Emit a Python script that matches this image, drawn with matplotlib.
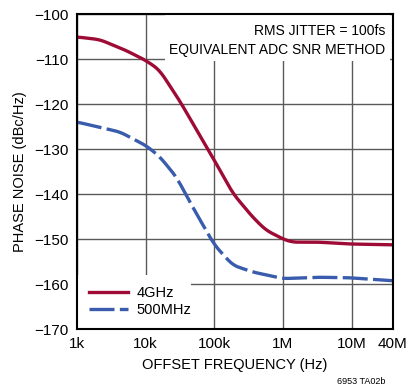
import numpy as np
import matplotlib
matplotlib.use("Agg")
import matplotlib.pyplot as plt
from matplotlib.patches import Rectangle

plt.rcParams['font.family'] = ['Liberation Sans', 'DejaVu Sans']

# Phase noise curves
freq_4g = [1e3, 2.15e3, 5e3, 1e4, 1.58e4, 3.1e4, 1e5, 1.85e5, 3.55e5, 5.6e5, 1e6, 1.35e6, 3.3e6, 9e6, 4e7]
pn_4g = [-105.1, -105.7, -108.0, -110.3, -112.4, -119.2, -132.5, -139.8, -145.0, -148.0, -150.0, -150.7, -150.7, -151.1, -151.3]

freq_500m = [1e3, 2.15e3, 4.2e3, 1e4, 1.58e4, 2.8e4, 4.8e4, 1e5, 1.85e5, 3.55e5, 1e6, 3.3e6, 9e6, 4e7]
pn_500m = [-124.0, -125.2, -126.2, -129.2, -131.6, -136.2, -142.8, -151.3, -155.8, -157.3, -158.8, -158.5, -158.6, -159.3]

xticks = [1e3, 1e4, 1e5, 1e6, 1e7, 4e7]
xticklabels = ["1k", "10k", "100k", "1M", "10M", "40M"]
yticks = [-100, -110, -120, -130, -140, -150, -160, -170]


def smooth(f, v, n=400):
    # interpolate on log frequency, then soften the corners with a short moving average
    lf = np.log10(f)
    xs = np.linspace(lf[0], lf[-1], n)
    ys = np.interp(xs, lf, v)
    k = 15
    ker = np.ones(k) / k
    pad = np.concatenate([np.full(k, ys[0]), ys, np.full(k, ys[-1])])
    ys = np.convolve(pad, ker, mode="same")[k:-k]
    return 10 ** xs, ys


fig = plt.figure(figsize=(4.09, 3.89), dpi=100)
ax = fig.add_axes([77 / 409, 1 - 329 / 389, 316 / 409, 315 / 389])

ax.set_xscale("log")
ax.set_xlim(1e3, 4e7)
ax.set_ylim(-170, -100)
ax.set_xticks(xticks)
ax.set_xticklabels(xticklabels)
ax.set_yticks(yticks)
ax.set_yticklabels(["\u2212%d" % -t for t in yticks])
ax.minorticks_off()
ax.tick_params(length=0, labelsize=11, pad=6)
ax.grid(True, color="#5a5a5a", linewidth=1.0)
ax.set_axisbelow(True)
for s in ax.spines.values():
    s.set_linewidth(1.5)
    s.set_zorder(10)

x1, y1 = smooth(freq_4g, pn_4g)
x2, y2 = smooth(freq_500m, pn_500m)
ax.plot(x1, y1, color="#9e0b35", linewidth=2.4, zorder=5, label="4GHz")
ax.plot(x2, y2, color="#3a5cad", linewidth=2.4, dashes=(7.5, 1.6), zorder=5, label="500MHz")

# white boxes hiding the grid behind the annotation and legend
ax.add_patch(Rectangle((0.28, 0.85), 0.71, 0.15, transform=ax.transAxes,
                       facecolor="white", edgecolor="none", zorder=2))
ax.text(0.975, 0.945, "RMS JITTER = 100fs", transform=ax.transAxes,
        ha="right", va="center", fontsize=10, zorder=3)
ax.text(0.975, 0.887, "EQUIVALENT ADC SNR METHOD", transform=ax.transAxes,
        ha="right", va="center", fontsize=10, zorder=3)

ax.add_patch(Rectangle((0.0, 0.0), 0.36, 0.17, transform=ax.transAxes,
                       facecolor="white", edgecolor="none", zorder=2))
leg = ax.legend(loc="lower left", bbox_to_anchor=(0.0, 0.0), frameon=False,
                fontsize=10.5, handlelength=2.7, handletextpad=0.6,
                borderaxespad=0.4, labelspacing=0.2)
leg.set_zorder(4)

ax.set_xlabel("OFFSET FREQUENCY (Hz)", fontsize=10.5, labelpad=5)
ax.set_ylabel("PHASE NOISE (dBc/Hz)", fontsize=10.5, labelpad=5)
fig.text(385 / 409, 1 - 381 / 389, "6953 TA02b", fontsize=6.5, ha="right", va="center")

fig.savefig("out.png", dpi=100)
